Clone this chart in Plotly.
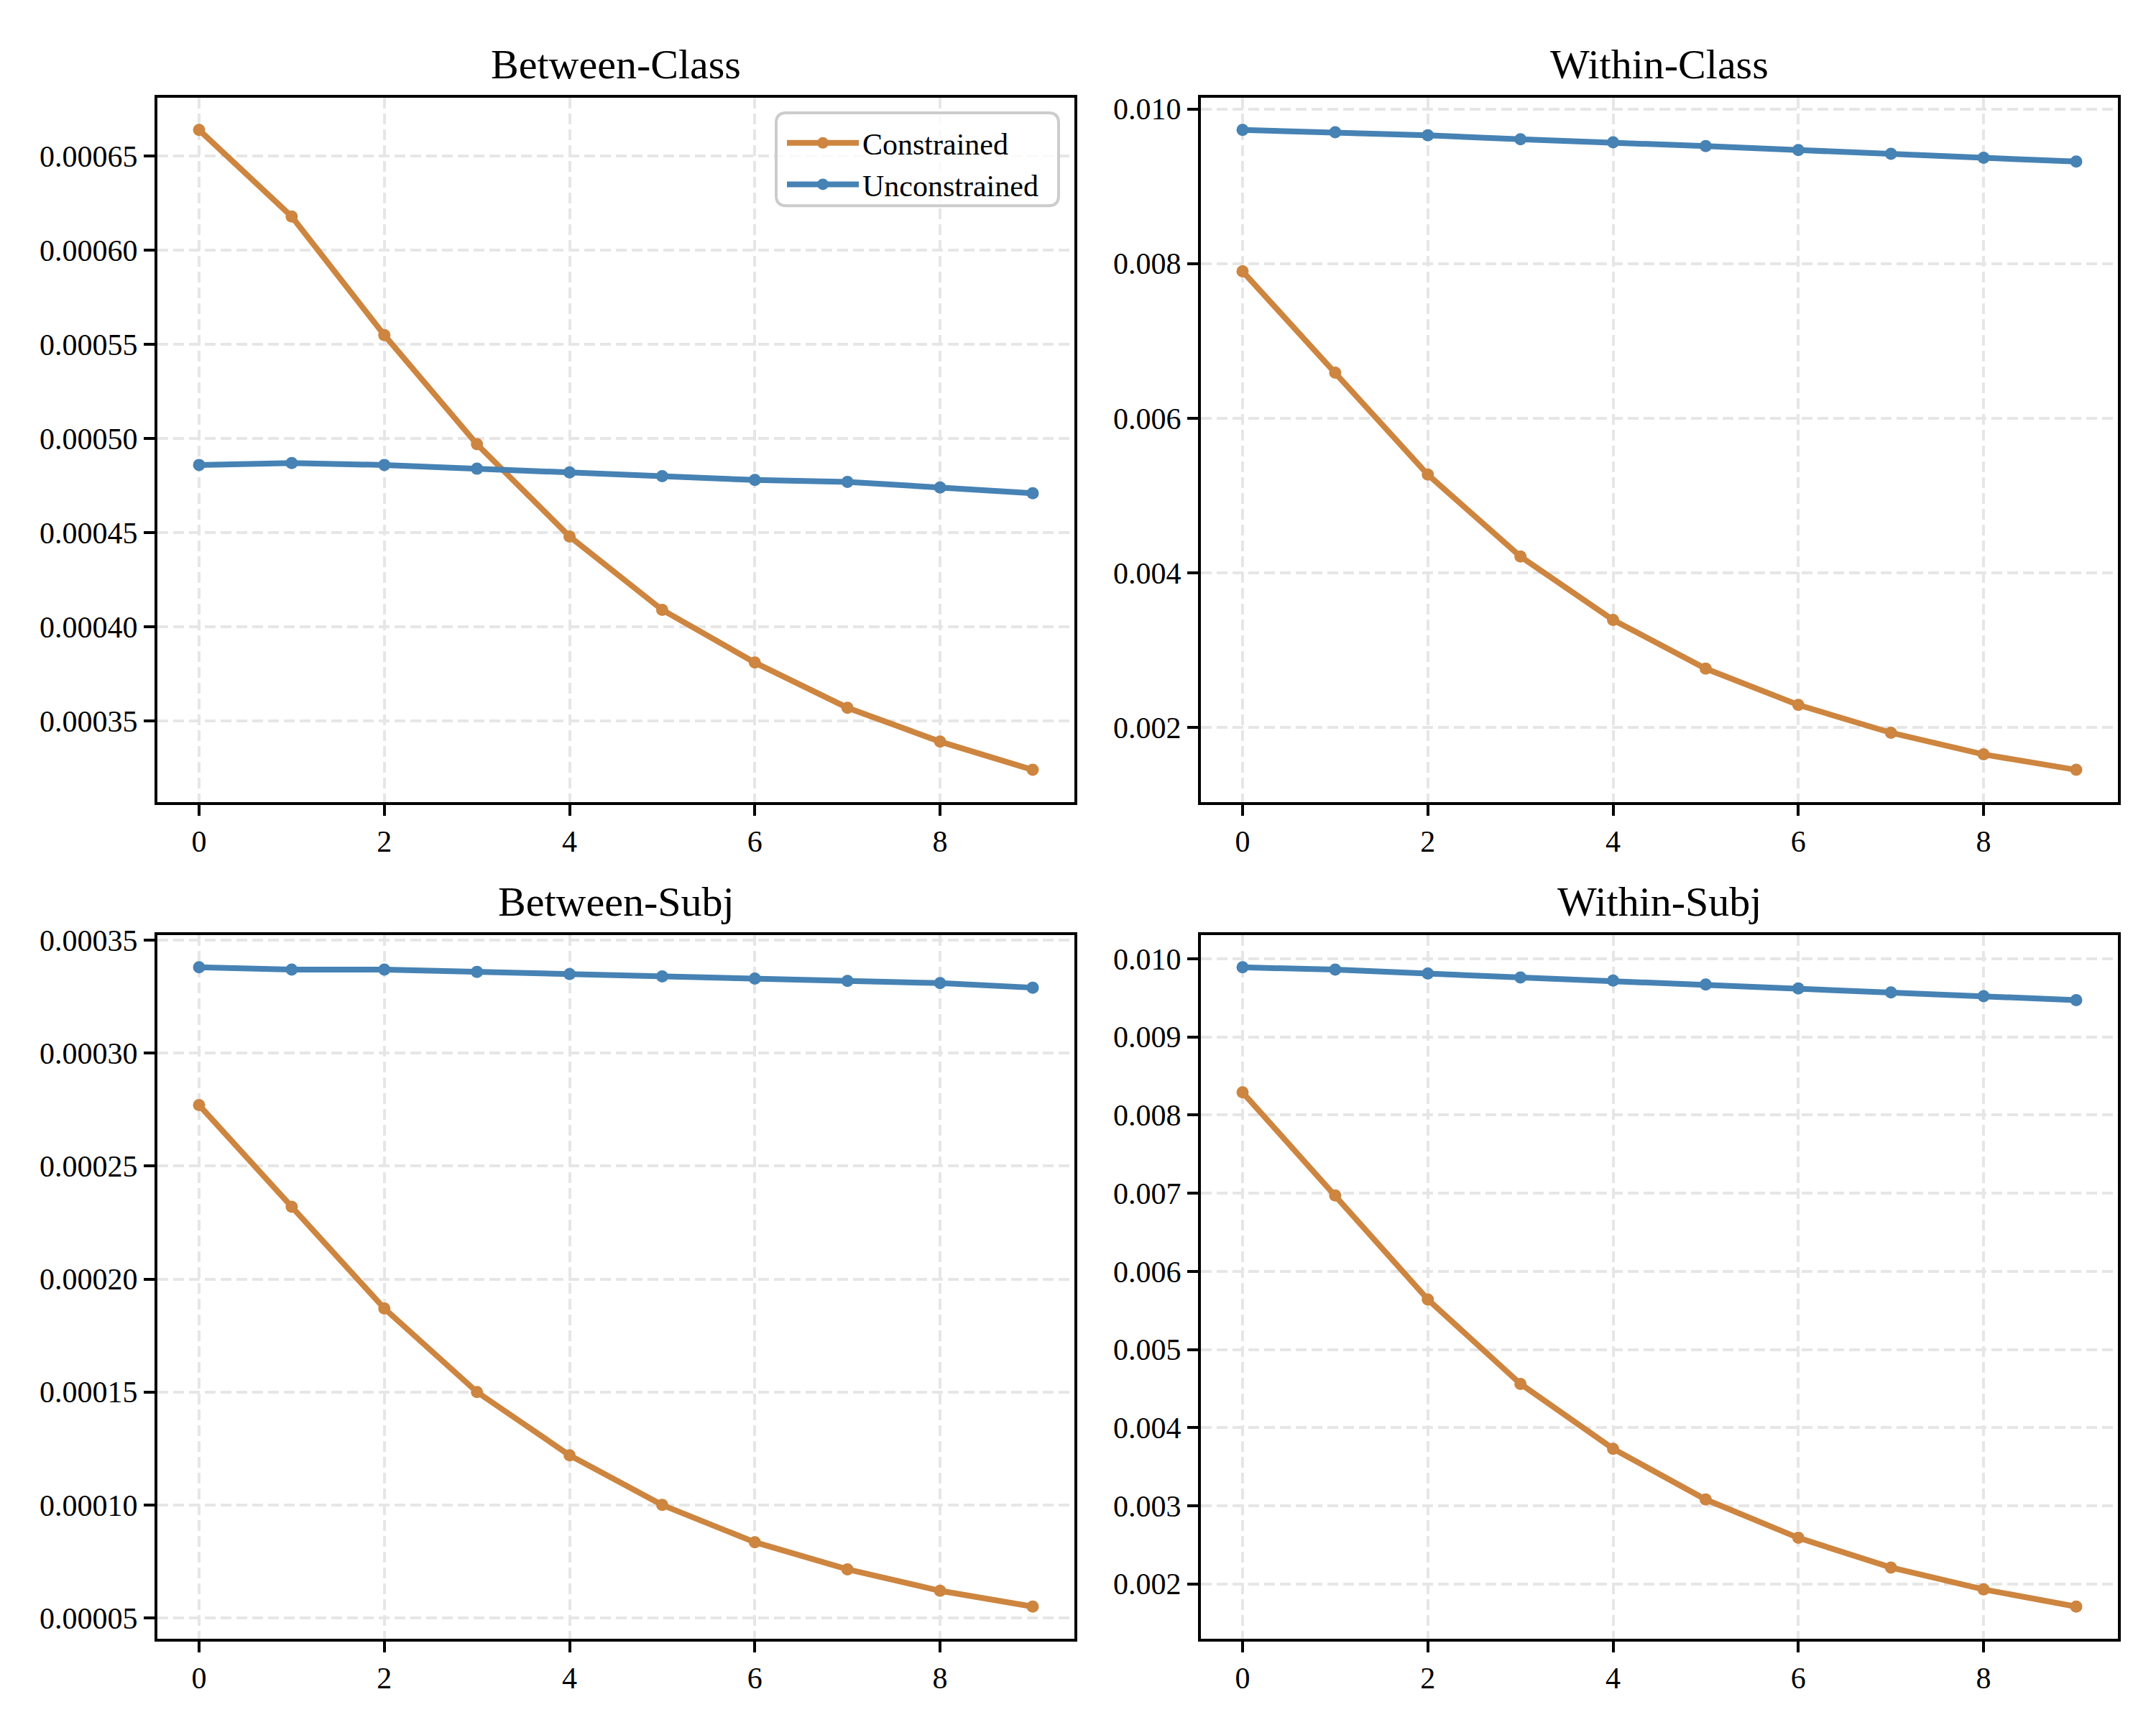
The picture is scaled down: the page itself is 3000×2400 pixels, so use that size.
import plotly.graph_objects as go

steps = list(range(10))

titles = ["Between-Class", "Within-Class", "Between-Subj", "Within-Subj"]

bc_constrained = [0.000664, 0.000618, 0.000555, 0.000497, 0.000448, 0.000409, 0.000381, 0.000357, 0.000339, 0.000324]
bc_unconstrained = [0.000486, 0.000487, 0.000486, 0.000484, 0.000482, 0.000480, 0.000478, 0.000477, 0.000474, 0.000471]

wc_constrained = [0.00790, 0.00659, 0.00527, 0.00421, 0.00339, 0.00276, 0.00229, 0.00193, 0.00165, 0.00145]
wc_unconstrained = [0.00973, 0.00970, 0.00966, 0.00961, 0.00957, 0.00952, 0.00947, 0.00942, 0.00937, 0.00932]

bs_constrained = [0.000277, 0.000232, 0.000187, 0.000150, 0.000122, 0.000100, 0.0000835, 0.0000715, 0.000062, 0.000055]
bs_unconstrained = [0.000338, 0.000337, 0.000337, 0.000336, 0.000335, 0.000334, 0.000333, 0.000332, 0.000331, 0.000329]

ws_constrained = [0.00829, 0.00697, 0.00564, 0.00456, 0.00373, 0.00308, 0.00259, 0.00221, 0.00193, 0.00171]
ws_unconstrained = [0.00989, 0.00986, 0.00981, 0.00976, 0.00972, 0.00967, 0.00962, 0.00957, 0.00952, 0.00947]

panels = [
    (bc_constrained, bc_unconstrained, 0.00005, ".5f"),
    (wc_constrained, wc_unconstrained, 0.002, ".3f"),
    (bs_constrained, bs_unconstrained, 0.00005, ".5f"),
    (ws_constrained, ws_unconstrained, 0.001, ".3f"),
]

C_ORANGE = "#CD853F"
C_BLUE = "#4682B4"
FONT = "Liberation Serif, Times New Roman, serif"

# page body has an 8px default margin; size the figure so the page is 3000x2400
OFF = 8
W, H = 3000 - 2 * OFF, 2400 - 2 * OFF


def px(v):
    return (v - OFF) / W


def py(v):
    return 1 - (v - OFF) / H


xdomains = [[px(219), px(1495)], [px(1671), px(2947)]]
ydomains = [[py(1107), py(121)], [py(2279), py(1294)]]

fig = go.Figure()
layout = {}
annotations = []

for i, (cons, unc, dt, fmt) in enumerate(panels):
    r, c = divmod(i, 2)
    n = i + 1
    xa = "x" if n == 1 else f"x{n}"
    ya = "y" if n == 1 else f"y{n}"
    fig.add_trace(go.Scatter(
        x=steps, y=cons, mode="lines+markers", name="Constrained",
        line=dict(color=C_ORANGE, width=8), marker=dict(color=C_ORANGE, size=17),
        xaxis=xa, yaxis=ya, showlegend=(i == 0)))
    fig.add_trace(go.Scatter(
        x=steps, y=unc, mode="lines+markers", name="Unconstrained",
        line=dict(color=C_BLUE, width=8), marker=dict(color=C_BLUE, size=17),
        xaxis=xa, yaxis=ya, showlegend=(i == 0)))
    lo = min(min(cons), min(unc))
    hi = max(max(cons), max(unc))
    pad = 0.05 * (hi - lo)
    common = dict(
        showline=True, mirror=True, linecolor="black", linewidth=4,
        ticks="outside", ticklen=15, tickwidth=4, tickcolor="black",
        showgrid=True, gridcolor="#e6e6e6", gridwidth=4, griddash="15px,7px",
        zeroline=False, tickfont=dict(family=FONT, size=42, color="black"),
    )
    layout[f"xaxis{'' if n == 1 else n}"] = dict(
        domain=xdomains[c], anchor=ya, range=[-0.45, 9.45], tick0=0, dtick=2, **common)
    layout[f"yaxis{'' if n == 1 else n}"] = dict(
        domain=ydomains[r], anchor=xa, range=[lo - pad, hi + pad], dtick=dt, tickformat=fmt, **common)
    annotations.append(dict(
        text=titles[i], xref="paper", yref="paper",
        x=sum(xdomains[c]) / 2, y=ydomains[r][1] + 12 / H,
        xanchor="center", yanchor="bottom", showarrow=False,
        font=dict(family=FONT, size=58, color="black")))

# rounded legend frame (matplotlib-style)
x0, x1, y0, y1, rr = px(1080), px(1473), py(272), py(142), 14
rx, ry = rr / W, rr / H
legend_path = (
    f"M {x0 + rx},{y0} L {x1 - rx},{y0} Q {x1},{y0} {x1},{y0 + ry} "
    f"L {x1},{y1 - ry} Q {x1},{y1} {x1 - rx},{y1} "
    f"L {x0 + rx},{y1} Q {x0},{y1} {x0},{y1 - ry} "
    f"L {x0},{y0 + ry} Q {x0},{y0} {x0 + rx},{y0} Z"
)
shapes = [dict(type="path", path=legend_path, xref="paper", yref="paper",
               line=dict(color="#cccccc", width=4), fillcolor="rgba(255,255,255,0.8)",
               layer="above")]

fig.update_layout(
    width=W, height=H,
    margin=dict(l=0, r=0, t=0, b=0),
    paper_bgcolor="white", plot_bgcolor="white",
    annotations=annotations,
    shapes=shapes,
    legend=dict(
        x=px(1090), y=py(150), xanchor="left", yanchor="top",
        bgcolor="rgba(0,0,0,0)", borderwidth=0,
        font=dict(family=FONT, size=42, color="black"),
        itemwidth=100, tracegroupgap=0,
    ),
    **layout,
)

fig.write_html("out.html")
